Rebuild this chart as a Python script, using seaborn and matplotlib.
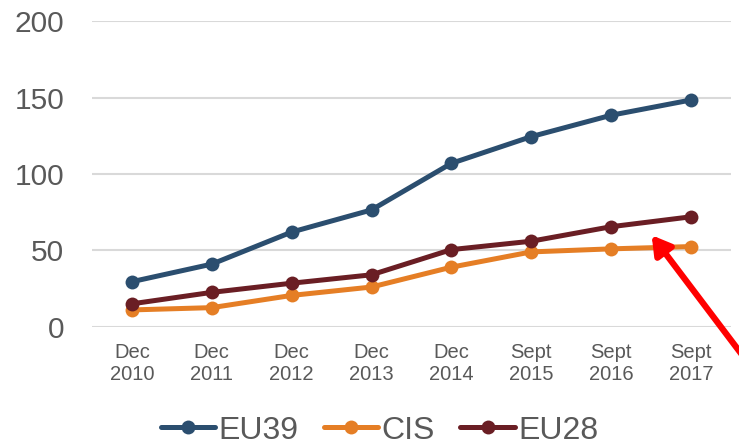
import pandas as pd
import seaborn as sns
import matplotlib.pyplot as plt

# Dados
periods = ['Dec\n2010', 'Dec\n2011', 'Dec\n2012', 'Dec\n2013', 'Dec\n2014',
           'Sept\n2015', 'Sept\n2016', 'Sept\n2017']
eu39 = [29.5, 41, 62, 76.5, 107, 124.5, 138.5, 148.5]
cis = [11, 12.5, 20.5, 26, 39, 49, 51, 52.5]
eu28 = [15, 22.5, 28.5, 34, 50.5, 56, 65.5, 72]

series = ['EU39', 'CIS', 'EU28']
colors = ['#2B4E6F', '#E57E25', '#6A1E24']

df = pd.DataFrame({'period': periods * 3,
                   'value': eu39 + cis + eu28,
                   'series': [s for s in series for _ in periods]})

sns.set_style('white')
plt.rcParams['font.family'] = ['Liberation Sans', 'DejaVu Sans']

fig = plt.figure(figsize=(7.39, 4.45), dpi=100)
ax = fig.add_axes([0.1245, 0.2658, 0.8645, 0.6862])

sns.lineplot(data=df, x='period', y='value', hue='series', palette=colors,
             marker='o', markersize=10, markeredgewidth=0, linewidth=3.6,
             sort=False, ax=ax)

ax.set_xlim(-0.5, 7.5)
ax.set_ylim(0, 200)
ax.set_yticks([0, 50, 100, 150, 200])
ax.grid(axis='y', color='#D9D9D9', linewidth=1.5)
ax.set_axisbelow(True)
for s in ax.spines.values():
    s.set_visible(False)
ax.tick_params(axis='y', labelsize=21.5, labelcolor='#595959', length=0, pad=20)
ax.tick_params(axis='x', labelsize=14.5, labelcolor='#595959', length=0, pad=12)
ax.set_xlabel('')
ax.set_ylabel('')

leg = ax.legend(loc='center', bbox_to_anchor=(0.45, -0.34), ncol=3, frameon=False,
                fontsize=23, handlelength=1.7, handletextpad=0.1, columnspacing=0.8)
for t in leg.get_texts():
    t.set_color('#595959')

# Seta vermelha
ax.annotate('', xy=(650 / 739, 1 - 233 / 445), xycoords='figure fraction',
            xytext=(752 / 739, 1 - 368 / 445), textcoords='figure fraction',
            arrowprops=dict(arrowstyle='-|>,head_length=1.1,head_width=0.65',
                            color='#FF0000', lw=4.5),
            annotation_clip=False)

fig.savefig('out.png', dpi=100)
